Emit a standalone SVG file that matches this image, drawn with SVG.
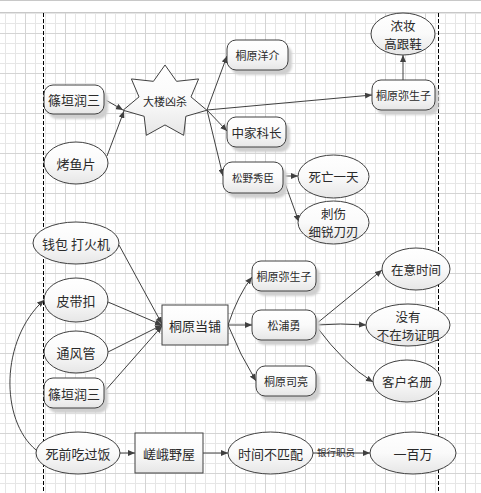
<svg xmlns="http://www.w3.org/2000/svg" width="481" height="493" viewBox="0 0 481 493">
<defs>
  <pattern id="gridS" x="5" y="3" width="10" height="10" patternUnits="userSpaceOnUse">
    <path d="M0,0.5 H10 M0.5,0 V10" fill="none" stroke="#e6e6e6" stroke-width="1"/>
  </pattern>
  <pattern id="gridL" x="25" y="33" width="40" height="40" patternUnits="userSpaceOnUse">
    <path d="M0,0.5 H40 M0.5,0 V40" fill="none" stroke="#d4d4d4" stroke-width="1"/>
  </pattern>
  <linearGradient id="fillG" x1="0" y1="0" x2="0" y2="1">
    <stop offset="0" stop-color="#ffffff"/>
    <stop offset="0.5" stop-color="#fafafa"/>
    <stop offset="1" stop-color="#e6e6e6"/>
  </linearGradient>
  <filter id="blur" x="-20%" y="-20%" width="140%" height="140%">
    <feGaussianBlur stdDeviation="1.2"/>
  </filter>
  <marker id="arr" markerWidth="8" markerHeight="6" refX="7" refY="3" orient="auto" markerUnits="userSpaceOnUse">
    <path d="M0,0 L7,3 L0,6 z" fill="#404040"/>
  </marker>
</defs>
<style>
  .shape { fill: url(#fillG); stroke: #404040; stroke-width: 1; }
  .shadow { fill: #cfcfcf; filter: url(#blur); }
  .t { font-family: "Noto Sans CJK SC", "Noto Sans CJK JP", sans-serif; fill: #2a2a2a; text-anchor: middle; dominant-baseline: central; }
  .conn path { fill: none; stroke: #404040; stroke-width: 1; marker-end: url(#arr); }
  .dash { stroke: #000; stroke-width: 1; stroke-dasharray: 4,2; }
</style>

<!-- background -->
<rect x="0" y="0" width="481" height="493" fill="#ffffff"/>
<rect x="0" y="13" width="481" height="480" fill="url(#gridS)"/>
<rect x="0" y="13" width="481" height="480" fill="url(#gridL)"/>
<line x1="0" y1="0.5" x2="481" y2="0.5" stroke="#c8c8c8"/>
<line x1="0" y1="12.5" x2="481" y2="12.5" stroke="#c8c8c8"/>
<line class="dash" x1="43.5" y1="13" x2="43.5" y2="493"/>
<line class="dash" x1="438.5" y1="13" x2="438.5" y2="493"/>

<!-- connectors -->
<g id="connectors" class="conn">
  <path d="M104,99 L123,110"/>
  <path d="M107,156 L124,111"/>
  <path d="M207,110 L227,56"/>
  <path d="M207,110 L372,95"/>
  <path d="M207,110 L227,131"/>
  <path d="M207,110 L223,176"/>
  <path d="M403,80 L403,55"/>
  <path d="M283,176 L298,176"/>
  <path d="M283,178 L299,222"/>
  <path d="M119,245 L162,324"/>
  <path d="M108,302 L162,325"/>
  <path d="M108,352 L162,325"/>
  <path d="M104,392 L162,326"/>
  <path d="M228,325 Q238,295 252,277"/>
  <path d="M228,325 L252,325"/>
  <path d="M228,325 Q240,355 256,381"/>
  <path d="M316,324 L382,270"/>
  <path d="M316,325 Q340,323 366,325"/>
  <path d="M316,326 Q345,365 373,382"/>
  <path d="M36,450 C0,420 0,340 44,300"/>
  <path d="M120,453 L135,453"/>
  <path d="M203,453 L228,453"/>
  <path d="M313,453 L370,453"/>
  <text class="t" x="336" y="452" font-size="9.5">银行职员</text>
</g>

<!-- nodes -->
<g id="n_shinogaki1">
  <rect class="shadow" x="48" y="90" width="60" height="29" rx="9"/>
  <rect class="shape" x="44" y="85" width="60" height="29" rx="9"/>
  <text class="t" x="74" y="99.5" font-size="13">篠垣润三</text>
</g>
<g id="n_yakizakana">
  <ellipse class="shape" cx="76" cy="163" rx="32" ry="21"/>
  <text class="t" x="76" y="163" font-size="13">烤鱼片</text>
</g>
<g id="n_murder">
  <polygon class="shape" points="165,65 176.57,81.33 198.62,78.93 190.99,96.9 206.92,110.23 185.84,116.3 183.66,135.34 165,124.94 146.34,135.34 144.16,116.3 123.08,110.23 139.01,96.9 131.38,78.93 153.43,81.33"/>
  <text class="t" x="165" y="101" font-size="11">大楼凶杀</text>
</g>
<g id="n_yosuke">
  <rect class="shadow" x="231" y="45" width="61" height="30" rx="9"/>
  <rect class="shape" x="227" y="40" width="61" height="30" rx="9"/>
  <text class="t" x="257.5" y="55" font-size="11">桐原洋介</text>
</g>
<g id="n_nakazuka">
  <rect class="shadow" x="231" y="122" width="59" height="30" rx="9"/>
  <rect class="shape" x="227" y="117" width="59" height="30" rx="9"/>
  <text class="t" x="256.5" y="132" font-size="12.5">中家科长</text>
</g>
<g id="n_matsuno">
  <rect class="shadow" x="227" y="167" width="60" height="31" rx="9"/>
  <rect class="shape" x="223" y="162" width="60" height="31" rx="9"/>
  <text class="t" x="253" y="177.5" font-size="10.5">松野秀臣</text>
</g>
<g id="n_yaeko1">
  <rect class="shadow" x="376" y="85" width="63" height="30" rx="9"/>
  <rect class="shape" x="372" y="80" width="63" height="30" rx="9"/>
  <text class="t" x="403.5" y="95" font-size="11">桐原弥生子</text>
</g>
<g id="n_makeup">
  <ellipse class="shape" cx="403" cy="34" rx="32" ry="21"/>
  <text class="t" x="403" y="25" font-size="12.5">浓妆</text>
  <text class="t" x="403" y="43" font-size="12.5">高跟鞋</text>
</g>
<g id="n_deathday">
  <ellipse class="shape" cx="333.5" cy="176.5" rx="35.5" ry="21.5"/>
  <text class="t" x="333.5" y="176.5" font-size="12.5">死亡一天</text>
</g>
<g id="n_stab">
  <ellipse class="shape" cx="333.5" cy="222.5" rx="35.5" ry="21.5"/>
  <text class="t" x="333.5" y="213" font-size="12.5">刺伤</text>
  <text class="t" x="333.5" y="231" font-size="12.5">细锐刀刃</text>
</g>
<g id="n_wallet">
  <ellipse class="shape" cx="76" cy="243" rx="43" ry="21"/>
  <text class="t" x="76" y="243" font-size="13">钱包 打火机</text>
</g>
<g id="n_buckle">
  <ellipse class="shape" cx="76" cy="300" rx="32" ry="22"/>
  <text class="t" x="76" y="300" font-size="13">皮带扣</text>
</g>
<g id="n_vent">
  <ellipse class="shape" cx="76" cy="352" rx="32" ry="21"/>
  <text class="t" x="76" y="352" font-size="13">通风管</text>
</g>
<g id="n_shinogaki2">
  <rect class="shadow" x="48" y="383" width="60" height="30" rx="9"/>
  <rect class="shape" x="44" y="378" width="60" height="30" rx="9"/>
  <text class="t" x="74" y="393" font-size="13">篠垣润三</text>
</g>
<g id="n_pawnshop">
  <rect class="shape" x="162" y="305" width="66" height="40"/>
  <text class="t" x="195" y="325" font-size="13">桐原当铺</text>
</g>
<g id="n_yaeko2">
  <rect class="shadow" x="256" y="266" width="64" height="30" rx="9"/>
  <rect class="shape" x="252" y="261" width="64" height="30" rx="9"/>
  <text class="t" x="284" y="276" font-size="11">桐原弥生子</text>
</g>
<g id="n_matsuura">
  <rect class="shadow" x="256" y="315" width="64" height="30" rx="9"/>
  <rect class="shape" x="252" y="310" width="64" height="30" rx="9"/>
  <text class="t" x="284" y="325" font-size="11">松浦勇</text>
</g>
<g id="n_ryo">
  <rect class="shadow" x="260" y="371" width="60" height="30" rx="9"/>
  <rect class="shape" x="256" y="366" width="60" height="30" rx="9"/>
  <text class="t" x="286" y="381" font-size="11">桐原司亮</text>
</g>
<g id="n_time">
  <ellipse class="shape" cx="416" cy="269" rx="34" ry="21"/>
  <text class="t" x="416" y="269" font-size="12.5">在意时间</text>
</g>
<g id="n_alibi">
  <ellipse class="shape" cx="408" cy="325" rx="42" ry="21"/>
  <text class="t" x="408" y="316" font-size="12.5">没有</text>
  <text class="t" x="408" y="334" font-size="12.5">不在场证明</text>
</g>
<g id="n_clients">
  <ellipse class="shape" cx="407" cy="381" rx="34" ry="21"/>
  <text class="t" x="407" y="381" font-size="12.5">客户名册</text>
</g>
<g id="n_meal">
  <ellipse class="shape" cx="78" cy="453" rx="42" ry="21"/>
  <text class="t" x="78" y="453" font-size="13">死前吃过饭</text>
</g>
<g id="n_sagano">
  <rect class="shape" x="135" y="433" width="68" height="40"/>
  <text class="t" x="169" y="453" font-size="13">嵯峨野屋</text>
</g>
<g id="n_mismatch">
  <ellipse class="shape" cx="270.5" cy="453" rx="42.5" ry="21"/>
  <text class="t" x="270.5" y="453" font-size="13">时间不匹配</text>
</g>
<g id="n_million">
  <ellipse class="shape" cx="413" cy="453" rx="43" ry="21"/>
  <text class="t" x="413" y="453" font-size="13">一百万</text>
</g>
</svg>
